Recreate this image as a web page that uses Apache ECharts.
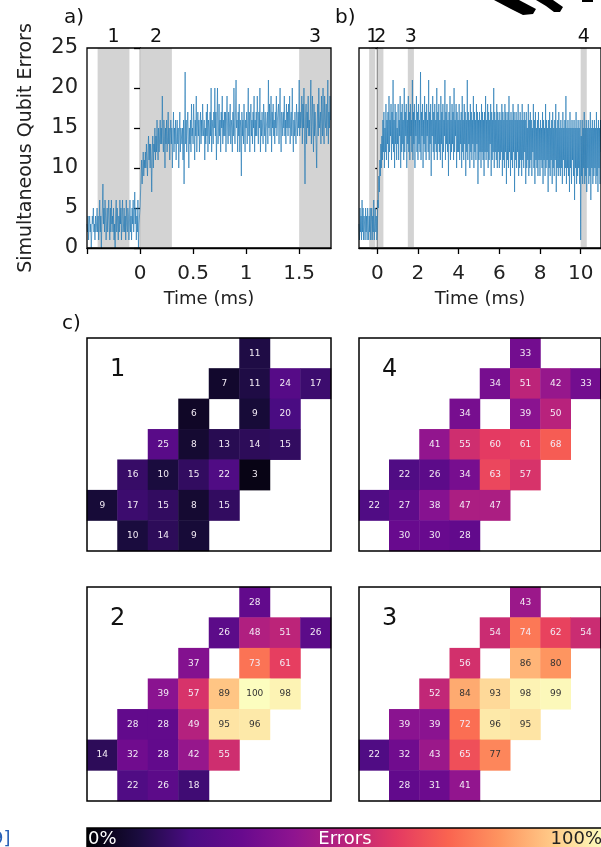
<!DOCTYPE html>
<html>
<head>
<meta charset="utf-8">
<script src="https://cdn.jsdelivr.net/npm/echarts@6/dist/echarts.min.js"></script>
<style>
  html, body { margin: 0; padding: 0; background: #fff; }
  #chart { width: 601px; height: 847px; }
</style>
</head>
<body>
<div id="chart"></div>
<script>
// ---- Simultaneous qubit errors, short record (a): one sample every 0.005 ms from -0.5 ms
const aStart = -0.5;
const aStep = 0.005;
const aErrors = [
  3, 2, 4, 1, 3, 4, 2, 3, 0, 2,
  4, 3, 5, 2, 3, 1, 4, 2, 3, 5,
  2, 4, 1, 3, 6, 2, 4, 0, 3, 5,
  8, 3, 5, 2, 6, 4, 1, 3, 5, 2,
  4, 6, 3, 1, 5, 2, 6, 3, 4, 2,
  5, 1, 3, 0, 4, 6, 2, 5, 3, 1,
  4, 2, 6, 3, 5, 1, 4, 6, 2, 3,
  5, 2, 4, 1, 6, 3, 2, 5, 4, 1,
  3, 6, 2, 4, 1, 5, 3, 6, 2, 4,
  7, 3, 5, 1, 4, 2, 6, 0, 3, 4,
  5, 7, 9, 11, 8, 10, 12, 9, 11, 10,
  12, 10, 13, 11, 9, 12, 14, 11, 13, 10,
  13, 11, 7, 12, 14, 10, 13, 12, 15, 11,
  14, 12, 16, 13, 11, 15, 12, 14, 16, 13,
  15, 13, 19, 14, 12, 16, 14, 10, 15, 13,
  16, 12, 14, 17, 13, 15, 11, 14, 16, 13,
  15, 10, 14, 17, 12, 15, 13, 16, 11, 14,
  16, 13, 15, 10, 14, 17, 12, 15, 14, 13,
  15, 11, 16, 8, 14, 22, 13, 16, 12, 15,
  17, 14, 10, 15, 13, 16, 12, 18, 14, 15,
  13, 18, 15, 11, 16, 14, 19, 12, 15, 17,
  14, 16, 12, 15, 17, 13, 16, 14, 18, 15,
  14, 16, 11, 15, 13, 17, 14, 18, 12, 16,
  15, 13, 17, 14, 20, 12, 16, 15, 13, 17,
  15, 20, 14, 17, 11, 16, 20, 13, 15, 18,
  14, 16, 12, 17, 15, 19, 13, 16, 14, 17,
  14, 17, 12, 16, 19, 15, 13, 17, 14, 16,
  18, 13, 16, 15, 12, 17, 14, 20, 15, 13,
  13, 21, 15, 16, 12, 17, 14, 18, 12, 16,
  15, 9, 17, 14, 16, 13, 18, 15, 12, 16,
  15, 17, 13, 16, 20, 14, 17, 12, 16, 18,
  14, 16, 13, 17, 15, 19, 12, 16, 14, 17,
  14, 19, 16, 13, 17, 15, 20, 12, 16, 14,
  17, 15, 13, 18, 16, 14, 17, 12, 15, 16,
  17, 13, 21, 15, 18, 14, 16, 19, 12, 17,
  15, 18, 14, 16, 13, 17, 15, 19, 14, 16,
  16, 18, 13, 17, 20, 15, 12, 17, 16, 14,
  17, 15, 19, 14, 16, 13, 18, 15, 17, 14,
  18, 15, 19, 13, 16, 17, 14, 20, 15, 12,
  16, 14, 17, 15, 13, 18, 16, 14, 17, 15,
  21, 14, 17, 15, 16, 19, 13, 18, 15, 20,
  14, 8, 16, 18, 13, 17, 15, 19, 14, 16,
  14, 17, 21, 13, 16, 19, 15, 12, 18, 14,
  17, 15, 13, 10, 16, 18, 14, 20, 15, 16,
  17, 13, 19, 16, 14, 20, 15, 13, 19, 16,
  15, 18, 14, 16, 21, 13, 17, 15, 19, 16
];

// ---- Long record (b): one sample every 0.025 ms from -0.9 ms
const bStart = -0.9;
const bStep = 0.025;
const bErrors = [
  3, 1, 5, 2, 4, 1, 6, 2, 5, 1, 4, 3, 1, 5, 2, 4, 1, 5, 3, 1,
  4, 2, 5, 1, 3, 5, 1, 4, 2, 6, 1, 3, 5, 2, 4, 1,
  2, 6, 5, 9, 7, 11, 9, 13, 10, 14, 11, 16, 12, 17, 10, 15, 12, 18, 11, 16,
  13, 17, 10, 19, 12, 16, 14, 18, 11, 17, 13, 21, 12, 16, 10, 18, 13, 17, 11, 15,
  13, 18, 11, 16, 14, 19, 10, 17, 12, 18, 13, 16, 11, 20, 12, 17, 14, 18, 10, 16,
  13, 19, 12, 17, 11, 18, 14, 16, 12, 21, 11, 17, 13, 18, 10, 16, 14, 19, 12, 17,
  11, 18, 13, 16, 12, 22, 11, 17, 14, 18, 10, 16, 13, 19, 12, 17, 11, 18, 14, 16,
  12, 21, 11, 17, 13, 18, 9, 16, 14, 19, 12, 17, 11, 18, 13, 16, 12, 20, 11, 17,
  13, 18, 12, 16, 11, 19, 13, 17, 10, 18, 12, 16, 14, 21, 11, 17, 13, 18, 12, 16,
  9, 17, 13, 19, 11, 16, 12, 18, 13, 17, 11, 20, 12, 16, 14, 18, 10, 17, 12, 16,
  12, 18, 11, 16, 13, 17, 10, 19, 12, 16, 11, 18, 13, 17, 9, 16, 12, 21, 11, 17,
  13, 16, 10, 18, 12, 17, 11, 16, 13, 19, 10, 17, 12, 16, 11, 18, 13, 17, 8, 16,
  11, 17, 12, 16, 10, 18, 12, 17, 11, 16, 9, 17, 12, 19, 11, 16, 12, 18, 10, 17,
  11, 16, 13, 18, 9, 17, 11, 16, 12, 20, 10, 17, 12, 16, 11, 18, 10, 17, 12, 16,
  10, 17, 11, 16, 12, 18, 9, 17, 11, 16, 10, 18, 12, 17, 8, 16, 11, 17, 10, 19,
  12, 16, 9, 17, 11, 16, 10, 18, 12, 17, 7, 16, 11, 17, 10, 16, 12, 18, 9, 16,
  10, 17, 11, 16, 9, 18, 11, 16, 10, 17, 12, 16, 8, 17, 10, 15, 11, 18, 9, 16,
  10, 17, 11, 16, 9, 15, 12, 18, 10, 16, 8, 17, 11, 15, 10, 16, 9, 17, 11, 15,
  9, 16, 11, 15, 10, 17, 8, 16, 11, 15, 9, 18, 10, 16, 11, 15, 7, 16, 10, 17,
  9, 15, 11, 16, 8, 17, 10, 15, 9, 16, 11, 18, 7, 15, 10, 16, 9, 17, 10, 15,
  9, 16, 10, 15, 8, 17, 11, 15, 9, 16, 10, 19, 8, 15, 10, 16, 9, 15, 7, 17,
  10, 15, 8, 16, 11, 15, 9, 16, 6, 15, 10, 17, 8, 15, 9, 16, 10, 15, 8, 16,
  1, 14, 9, 16, 8, 15, 10, 17, 8, 15, 9, 16, 7, 15, 10, 16, 8, 15, 9, 17,
  6, 15, 10, 16, 8, 15, 9, 16, 10, 15, 8, 17, 9, 15, 7, 16, 10, 15, 8, 16,
  12
];

// ---- Shaded time windows: [label, start ms, end ms]
const windowsA = [['1', -0.4, -0.1], ['2', 0.0, 0.3], ['3', 1.5, 1.8]];
const windowsB = [['1', -0.4, -0.1], ['2', 0.0, 0.3], ['3', 1.5, 1.8], ['4', 10.0, 10.3]];

// ---- Axis ticks
const aTimeTicks = [-0.5, 0, 0.5, 1, 1.5];
const aTimeLabels = [0, 0.5, 1, 1.5];
const bTimeTicks = [0, 2, 4, 6, 8, 10];

// ---- Per-qubit error rate (%) in each window; rows top to bottom, null = no qubit
const window1 = [
  [null, null, null, null, null, 11, null, null],
  [null, null, null, null, 7, 11, 24, 17],
  [null, null, null, 6, null, 9, 20, null],
  [null, null, 25, 8, 13, 14, 15, null],
  [null, 16, 10, 15, 22, 3, null, null],
  [9, 17, 15, 8, 15, null, null, null],
  [null, 10, 14, 9, null, null, null, null]
];
const window2 = [
  [null, null, null, null, null, 28, null, null],
  [null, null, null, null, 26, 48, 51, 26],
  [null, null, null, 37, null, 73, 61, null],
  [null, null, 39, 57, 89, 100, 98, null],
  [null, 28, 28, 49, 95, 96, null, null],
  [14, 32, 28, 42, 55, null, null, null],
  [null, 22, 26, 18, null, null, null, null]
];
const window3 = [
  [null, null, null, null, null, 43, null, null],
  [null, null, null, null, 54, 74, 62, 54],
  [null, null, null, 56, null, 86, 80, null],
  [null, null, 52, 84, 93, 98, 99, null],
  [null, 39, 39, 72, 96, 95, null, null],
  [22, 32, 43, 65, 77, null, null, null],
  [null, 28, 31, 41, null, null, null, null]
];
const window4 = [
  [null, null, null, null, null, 33, null, null],
  [null, null, null, null, 34, 51, 42, 33],
  [null, null, null, 34, null, 39, 50, null],
  [null, null, 41, 55, 60, 61, 68, null],
  [null, 22, 26, 34, 63, 57, null, null],
  [22, 27, 38, 47, 47, null, null, null],
  [null, 30, 30, 28, null, null, null, null]
];

// ---- Colour scale (magma-like)
const scaleColors = ['#000004', '#1a0c3e', '#4a0c82', '#680a8e', '#8e1490', '#b8227c',
                     '#e43a62', '#fa6450', '#fe9560', '#ffca88', '#fcfdbf'];

const FONT = 'DejaVu Sans';

// layout of the six plotting areas
const lineGrids = [
  { left: 87, top: 48, width: 244, height: 200 },
  { left: 359, top: 48, width: 247, height: 200 }
];
const mapGrids = [
  { left: 87, top: 338, width: 244, height: 213, name: '1', data: window1 },
  { left: 359, top: 338, width: 243, height: 213, name: '4', data: window4 },
  { left: 87, top: 587, width: 244, height: 214, name: '2', data: window2 },
  { left: 359, top: 587, width: 243, height: 214, name: '3', data: window3 }
];

function toSeries(start, step, values) {
  return values.map((v, i) => [+(start + i * step).toFixed(4), v]);
}

function toCells(matrix) {
  const out = [];
  matrix.forEach((row, r) => row.forEach((v, c) => {
    if (v !== null) {
      out.push({ value: [c, r, v], label: { color: v >= 76 ? '#333333' : '#f3ecf5' } });
    }
  }));
  return out;
}

function windowAreas(list) {
  return list.map(([n, s, e]) => [{ name: n, xAxis: s }, { xAxis: e }]);
}

const grids = [];
const xAxes = [];
const yAxes = [];
const series = [];

const axisLineStyle = { color: '#000', width: 1.3 };

// line panels
lineGrids.forEach(g => {
  grids.push(Object.assign({ show: true, z: 10, borderColor: '#000', borderWidth: 1.3,
    backgroundColor: 'transparent' }, g));
});

xAxes.push({
  gridIndex: 0, type: 'value', min: -0.5, max: 1.8,
  name: 'Time (ms)', nameLocation: 'middle', nameGap: 42,
  nameTextStyle: { fontFamily: FONT, fontSize: 18, color: '#222' },
  axisLine: { show: true, lineStyle: axisLineStyle },
  axisTick: { show: true, inside: false, length: 6, lineStyle: axisLineStyle, customValues: aTimeTicks },
  axisLabel: { show: true, margin: 16, fontFamily: FONT, fontSize: 20, color: '#222',
    customValues: aTimeLabels, formatter: v => String(v) },
  splitLine: { show: false }
});
xAxes.push({
  gridIndex: 1, type: 'value', min: -0.9, max: 11,
  name: 'Time (ms)', nameLocation: 'middle', nameGap: 42,
  nameTextStyle: { fontFamily: FONT, fontSize: 18, color: '#222' },
  axisLine: { show: true, lineStyle: axisLineStyle },
  axisTick: { show: true, inside: false, length: 6, lineStyle: axisLineStyle, customValues: bTimeTicks },
  axisLabel: { show: true, margin: 16, fontFamily: FONT, fontSize: 20, color: '#222',
    customValues: bTimeTicks, formatter: v => String(v) },
  splitLine: { show: false }
});
yAxes.push({
  gridIndex: 0, type: 'value', min: 0, max: 25, interval: 5,
  name: 'Simultaneous Qubit Errors', nameLocation: 'middle', nameGap: 51,
  nameTextStyle: { fontFamily: FONT, fontSize: 19, color: '#222' },
  axisLine: { show: true, lineStyle: axisLineStyle },
  axisTick: { show: true, inside: false, length: 6, lineStyle: axisLineStyle },
  axisLabel: { show: true, margin: 9, fontFamily: FONT, fontSize: 21, color: '#222' },
  splitLine: { show: false }
});
yAxes.push({
  gridIndex: 1, type: 'value', min: 0, max: 25, interval: 5,
  axisLine: { show: true, lineStyle: axisLineStyle },
  axisTick: { show: true, inside: false, length: 6, lineStyle: axisLineStyle },
  axisLabel: { show: false },
  splitLine: { show: false }
});

const areaLabel = { show: true, position: 'top', distance: 1, color: '#111',
  fontFamily: FONT, fontSize: 19 };

series.push({
  type: 'line', xAxisIndex: 0, yAxisIndex: 0,
  data: toSeries(aStart, aStep, aErrors),
  showSymbol: false, symbol: 'none', animation: false,
  lineStyle: { color: '#1f77b4', width: 0.9, opacity: 0.72 },
  markArea: { silent: true, itemStyle: { color: '#d3d3d3' }, label: areaLabel,
    data: windowAreas(windowsA) }
});
series.push({
  type: 'line', xAxisIndex: 1, yAxisIndex: 1,
  data: toSeries(bStart, bStep, bErrors),
  showSymbol: false, symbol: 'none', animation: false,
  lineStyle: { color: '#1f77b4', width: 0.9, opacity: 0.72 },
  markArea: { silent: true, itemStyle: { color: '#d3d3d3' }, label: areaLabel,
    data: windowAreas(windowsB) }
});

// heat-map panels
const graphics = [];
mapGrids.forEach(g => {
  const gi = grids.length;
  grids.push({ left: g.left, top: g.top, width: g.width, height: g.height, show: true, z: 10,
    borderColor: '#000', borderWidth: 1.5, backgroundColor: 'transparent' });
  xAxes.push({ gridIndex: gi, type: 'category', data: [0, 1, 2, 3, 4, 5, 6, 7],
    axisLine: { show: false }, axisTick: { show: false }, axisLabel: { show: false },
    splitLine: { show: false } });
  yAxes.push({ gridIndex: gi, type: 'category', data: [0, 1, 2, 3, 4, 5, 6], inverse: true,
    axisLine: { show: false }, axisTick: { show: false }, axisLabel: { show: false },
    splitLine: { show: false } });
  series.push({
    type: 'heatmap', xAxisIndex: gi, yAxisIndex: gi,
    data: toCells(g.data), animation: false,
    label: { show: true, fontFamily: FONT, fontSize: 9 },
    itemStyle: { borderWidth: 0 },
    emphasis: { disabled: true }
  });
  graphics.push({
    type: 'text', left: g.left + 23, top: g.top + 20, z: 20,
    style: { text: g.name, fontFamily: FONT, fontSize: 24, fill: '#111' }
  });
});

// panel letters
graphics.push(
  { type: 'text', left: 64, top: 8, style: { text: 'a)', fontFamily: FONT, fontSize: 20, fill: '#111' } },
  { type: 'text', left: 335, top: 8, style: { text: 'b)', fontFamily: FONT, fontSize: 20, fill: '#111' } },
  { type: 'text', left: 62, top: 314, style: { text: 'c)', fontFamily: FONT, fontSize: 20, fill: '#111' } }
);

// colour bar with its captions
const barStops = scaleColors.map((c, i) => ({ offset: i / (scaleColors.length - 1), color: c }));
graphics.push(
  { type: 'rect', z: 5, shape: { x: 87, y: 828, width: 516, height: 30 },
    style: { fill: new echarts.graphic.LinearGradient(0, 0, 1, 0, barStops), stroke: '#000', lineWidth: 1.5 } },
  { type: 'text', z: 6, x: 88, y: 839, style: { text: '0%', fontFamily: FONT, fontSize: 18,
    fill: '#fff', verticalAlign: 'middle', align: 'left' } },
  { type: 'text', z: 6, x: 345, y: 839, style: { text: 'Errors', fontFamily: FONT, fontSize: 18,
    fill: '#fff', verticalAlign: 'middle', align: 'center' } },
  { type: 'text', z: 6, x: 602, y: 839, style: { text: '100%', fontFamily: FONT, fontSize: 18,
    fill: '#222', verticalAlign: 'middle', align: 'right' } }
);

// neighbouring page fragments along the edges
graphics.push(
  { type: 'text', z: 6, x: -8, y: 839, style: { text: '9]', fontFamily: FONT, fontSize: 18,
    fill: '#2a62b8', verticalAlign: 'middle' } },
  { type: 'polygon', z: 6, shape: { points: [[494, 0], [519, 0], [536, 9], [533, 14], [523, 15], [511, 9]] },
    style: { fill: '#000' } },
  { type: 'polygon', z: 6, shape: { points: [[536, 0], [553, 0], [563, 7], [560, 12], [554, 12], [546, 6]] },
    style: { fill: '#000' } },
  { type: 'line', z: 6, shape: { x1: 582, y1: 1, x2: 593, y2: 1 }, style: { stroke: '#000', lineWidth: 2 } }
);

const chart = echarts.init(document.getElementById('chart'), null, { renderer: 'canvas' });
chart.setOption({
  animation: false,
  backgroundColor: '#fff',
  grid: grids,
  xAxis: xAxes,
  yAxis: yAxes,
  visualMap: {
    type: 'continuous', show: false, min: 0, max: 100, dimension: 2,
    seriesIndex: [2, 3, 4, 5],
    inRange: { color: scaleColors }
  },
  series: series,
  graphic: graphics
});
</script>
</body>
</html>
